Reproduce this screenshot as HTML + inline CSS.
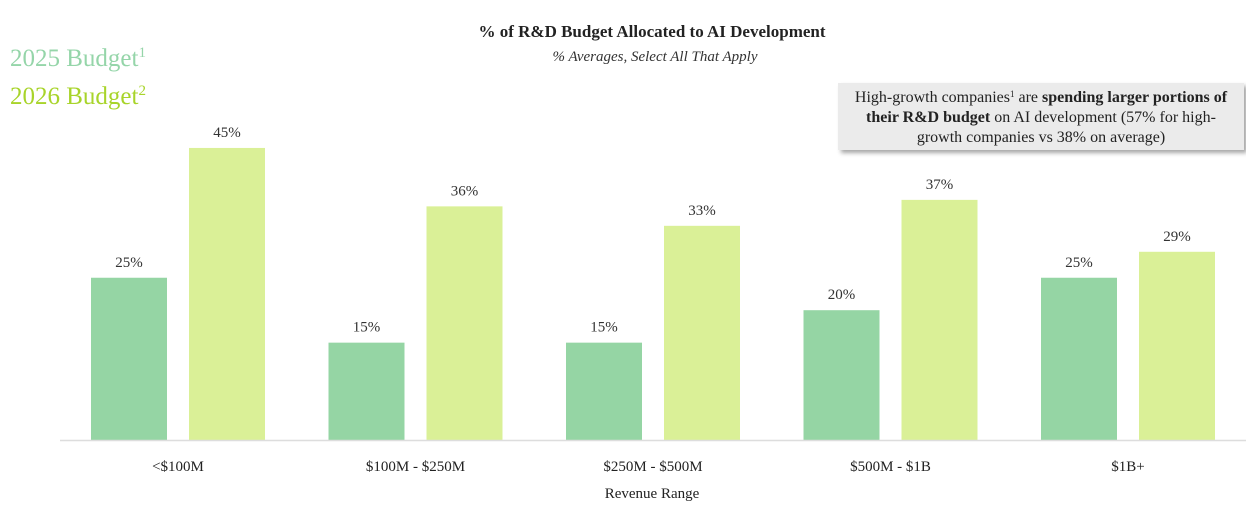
<!DOCTYPE html>
<html><head><meta charset="utf-8"><style>
body{margin:0;background:#fff;width:1246px;height:514px;overflow:hidden;font-family:"Liberation Serif",serif;}
</style></head><body>
<svg width="1246" height="514" xmlns="http://www.w3.org/2000/svg">
<defs><filter id="sh" x="-5%" y="-10%" width="115%" height="130%"><feDropShadow dx="3" dy="3" stdDeviation="2" flood-color="#000" flood-opacity="0.35"/></filter></defs>
<text x="652" y="37" text-anchor="middle" font-size="17" font-weight="bold" fill="#222">% of R&amp;D Budget Allocated to AI Development</text>
<text x="655" y="61" text-anchor="middle" font-size="15" font-style="italic" fill="#333">% Averages, Select All That Apply</text>
<text x="10" y="66" font-size="25" fill="#95d5a9">2025 Budget<tspan font-size="15" dy="-9">1</tspan></text>
<text x="10" y="104" font-size="25" fill="#a8d42a">2026 Budget<tspan font-size="15" dy="-9">2</tspan></text>
<g>
<rect x="838" y="83" width="406" height="67" fill="#ebebeb" filter="url(#sh)"/>
<text x="1041" y="102" text-anchor="middle" font-size="16" fill="#222">High-growth companies<tspan font-size="9" dy="-5">1</tspan><tspan dy="5"> are </tspan><tspan font-weight="bold">spending larger portions of</tspan></text>
<text x="1041" y="122" text-anchor="middle" font-size="16" fill="#222"><tspan font-weight="bold">their R&amp;D budget</tspan> on AI development (57% for high-</text>
<text x="1041" y="142" text-anchor="middle" font-size="16" fill="#222">growth companies vs 38% on average)</text>
</g>
<g id="bars"></g>
<line x1="60" y1="440.5" x2="1246" y2="440.5" stroke="#ddd" stroke-width="1.5"/>
<text x="652" y="498" text-anchor="middle" font-size="15" fill="#222">Revenue Range</text>
</svg>
<script>
const categories=["<$100M","$100M - $250M","$250M - $500M","$500M - $1B","$1B+"];
const values2025=[25,15,15,20,25];
const values2026=[45,36,33,37,29];
const NS="http://www.w3.org/2000/svg";
const g=document.getElementById('bars');
const base=440, scale=6.49, step=237.5, x0=91, bw=76, gap=98;
function y(v){return base-v*scale;}
function mk(t,a){const e=document.createElementNS(NS,t);for(const k in a)e.setAttribute(k,a[k]);g.appendChild(e);return e;}
categories.forEach((c,i)=>{
  const gx=x0+i*step;
  [[values2025[i],gx,"#95d5a4","2025"],[values2026[i],gx+gap,"#daf097","2026"]].forEach(([v,x,col,s])=>{
    const r=mk('rect',{x:x,y:y(v),width:bw,height:v*scale,fill:col});
    
    
    const t=mk('text',{x:x+bw/2,y:y(v)-11,'text-anchor':'middle','font-size':15,fill:'#333'});
    t.textContent=v+'%';
    
    
  });
  const l=mk('text',{x:gx+(gap+bw)/2,y:471,'text-anchor':'middle','font-size':15,fill:'#222'});
  l.textContent=c;
  
  
});
</script>
</body></html>
